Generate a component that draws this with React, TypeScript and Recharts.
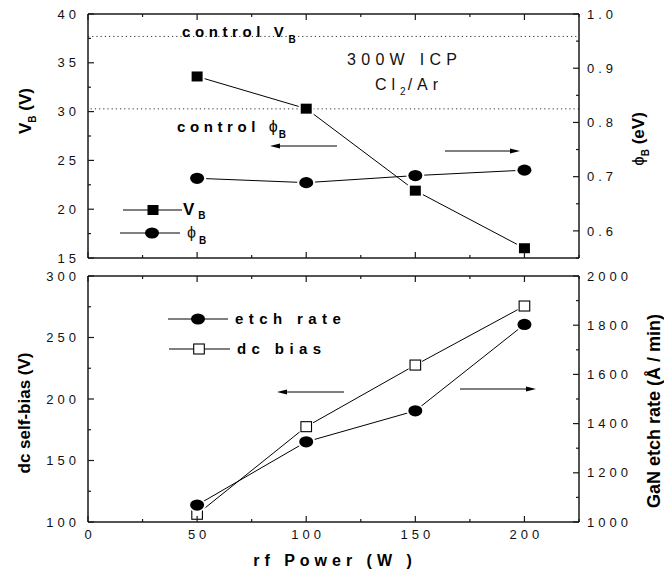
import React from "react";
import { ComposedChart, Line, XAxis, YAxis, ReferenceLine } from "recharts";

const FONT = "'Liberation Sans', Arial, Helvetica, sans-serif";

// ---- data ----
const power = [50, 100, 150, 200];
const vB = [33.6, 30.3, 21.9, 16.0];
const phiB = [0.697, 0.689, 0.702, 0.712];
const etchRate = [1069, 1326, 1452, 1803];
const dcBias = [106.3, 177.5, 227.6, 275.6];
const controlVB = 37.7;
const controlPhiB = 0.825;

// ---- ticks ----
const xTicks = [0, 25, 50, 75, 100, 125, 150, 175, 200, 225];
const vbTicks = [15, 17.5, 20, 22.5, 25, 27.5, 30, 32.5, 35, 37.5, 40];
const phiTicks = [0.55, 0.6, 0.65, 0.7, 0.75, 0.8, 0.85, 0.9, 0.95, 1.0];
const biasTicks = [100, 125, 150, 175, 200, 225, 250, 275, 300];
const rateTicks = [1000, 1100, 1200, 1300, 1400, 1500, 1600, 1700, 1800, 1900, 2000];

const topData = power.map((p, i) => ({ power: p, vB: vB[i], phiB: phiB[i] }));
const botData = power.map((p, i) => ({ power: p, etchRate: etchRate[i], dcBias: dcBias[i] }));

const isMult = (step: number) => (v: number) => Math.abs(v / step - Math.round(v / step)) < 1e-6;

const AX = "#1a1a1a";
const PHI = "\u03D5";

function makeTick(orient: string, isMajor: (v: number) => boolean, fmt: ((v: number) => string) | null) {
  return (props: any) => {
    const { x, y, payload } = props;
    const v = Number(payload.value);
    const major = isMajor(v);
    const len = major ? 6 : 3;
    const ts = { fontFamily: FONT, fontSize: 13, letterSpacing: 4, fill: "#111" } as any;
    let line: any = null;
    let label: any = null;
    if (orient === "left") {
      line = <line x1={x} y1={y} x2={x + len} y2={y} stroke={AX} strokeWidth={1.2} />;
      if (fmt && major) label = <text x={x - 8} y={y} dy="0.36em" textAnchor="end" {...ts}>{fmt(v)}</text>;
    } else if (orient === "right") {
      line = <line x1={x} y1={y} x2={x - len} y2={y} stroke={AX} strokeWidth={1.2} />;
      if (fmt && major) label = <text x={x + 8} y={y} dy="0.36em" textAnchor="start" {...ts}>{fmt(v)}</text>;
    } else if (orient === "bottom") {
      line = <line x1={x} y1={y} x2={x} y2={y - len} stroke={AX} strokeWidth={1.2} />;
      if (fmt && major) label = <text x={x + 2} y={y + 16.5} textAnchor="middle" {...ts}>{fmt(v)}</text>;
    } else {
      line = <line x1={x} y1={y} x2={x} y2={y + len} stroke={AX} strokeWidth={1.2} />;
    }
    return (
      <g>
        {line}
        {label}
      </g>
    );
  };
}

const FilledSquare = (props: any) => {
  const { cx, cy } = props;
  if (cx == null || cy == null) return <g />;
  return (
    <g>
      <rect x={cx - 7.5} y={cy - 7} width={15} height={14} fill="#fff" />
      <rect x={cx - 5.5} y={cy - 5} width={11} height={10} fill="#000" />
    </g>
  );
};
const FilledEllipse = (props: any) => {
  const { cx, cy } = props;
  if (cx == null || cy == null) return <g />;
  return (
    <g>
      <ellipse cx={cx} cy={cy} rx={9} ry={7} fill="#fff" />
      <ellipse cx={cx} cy={cy} rx={7} ry={5.6} fill="#000" />
    </g>
  );
};
const OpenSquare = (props: any) => {
  const { cx, cy } = props;
  if (cx == null || cy == null) return <g />;
  return (
    <g>
      <rect x={cx - 6.8} y={cy - 6} width={13.6} height={12} fill="#fff" />
      <rect x={cx - 5.3} y={cy - 5} width={10.6} height={10} fill="#fff" stroke="#000" strokeWidth={1.1} />
    </g>
  );
};

const Arrow = ({ x1, x2, y }: { x1: number; x2: number; y: number }) => {
  const dir = x2 > x1 ? 1 : -1;
  const hl = 10;
  return (
    <g>
      <line x1={x1} y1={y} x2={x2 - dir * hl} y2={y} stroke="#000" strokeWidth={1} />
      <polygon points={`${x2},${y} ${x2 - dir * hl},${y - 2.6} ${x2 - dir * hl},${y + 2.6}`} fill="#000" />
    </g>
  );
};

const bold = { fontFamily: FONT, fontWeight: 700, fill: "#000" } as any;
const reg = { fontFamily: FONT, fill: "#111" } as any;

export default function App() {
  return (
    <div style={{ position: "absolute", left: 0, top: 0, width: 664, height: 571, background: "#fff" }}>
      <div style={{ position: "absolute", left: 0, top: 0 }}>
        <ComposedChart width={664} height={270} data={topData} margin={{ top: 0, right: 25, bottom: 0, left: 28 }}>
          <XAxis xAxisId="b" dataKey="power" type="number" domain={[0, 225]} ticks={xTicks} interval={0}
            height={12} tickSize={0} tickMargin={0} tickLine={false} axisLine={{ stroke: AX, strokeWidth: 1.5 }}
            tick={makeTick("bottom", isMult(50), null)} />
          <XAxis xAxisId="t" orientation="top" dataKey="power" type="number" domain={[0, 225]} ticks={xTicks} interval={0}
            height={14} tickSize={0} tickMargin={0} tickLine={false} axisLine={{ stroke: AX, strokeWidth: 1.5 }}
            tick={makeTick("top", isMult(50), null)} />
          <YAxis yAxisId="L" type="number" domain={[15, 40]} ticks={vbTicks} interval={0} width={60}
            tickSize={0} tickMargin={0} tickLine={false} axisLine={{ stroke: AX, strokeWidth: 1.5 }}
            tick={makeTick("left", isMult(5), (v) => String(v))} />
          <YAxis yAxisId="R" orientation="right" type="number" domain={[0.55, 1.0]} ticks={phiTicks} interval={0} width={60}
            tickSize={0} tickMargin={0} tickLine={false} axisLine={{ stroke: AX, strokeWidth: 1.5 }}
            tick={makeTick("right", isMult(0.1), (v) => v.toFixed(1))} />
          <ReferenceLine xAxisId="b" yAxisId="L" y={controlVB} stroke="#333" strokeWidth={1} strokeDasharray="1.2 3" />
          <ReferenceLine xAxisId="b" yAxisId="R" y={controlPhiB} stroke="#333" strokeWidth={1} strokeDasharray="1.2 3" />
          <Line xAxisId="b" yAxisId="L" dataKey="vB" stroke="#000" strokeWidth={1} isAnimationActive={false}
            dot={(p: any) => <FilledSquare key={"vb" + p.index} {...p} />} activeDot={false} />
          <Line xAxisId="b" yAxisId="R" dataKey="phiB" stroke="#000" strokeWidth={1} isAnimationActive={false}
            dot={(p: any) => <FilledEllipse key={"ph" + p.index} {...p} />} activeDot={false} />
        </ComposedChart>
      </div>
      <div style={{ position: "absolute", left: 0, top: 270 }}>
        <ComposedChart width={664} height={301} data={botData} margin={{ top: 0, right: 25, bottom: 0, left: 28 }}>
          <XAxis xAxisId="b" dataKey="power" type="number" domain={[0, 225]} ticks={xTicks} interval={0}
            height={49} tickSize={0} tickMargin={0} tickLine={false} axisLine={{ stroke: AX, strokeWidth: 1.5 }}
            tick={makeTick("bottom", isMult(50), (v) => String(v))} />
          <XAxis xAxisId="t" orientation="top" dataKey="power" type="number" domain={[0, 225]} ticks={xTicks} interval={0}
            height={6} tickSize={0} tickMargin={0} tickLine={false} axisLine={{ stroke: AX, strokeWidth: 1.5 }}
            tick={makeTick("top", isMult(50), null)} />
          <YAxis yAxisId="L" type="number" domain={[100, 300]} ticks={biasTicks} interval={0} width={60}
            tickSize={0} tickMargin={0} tickLine={false} axisLine={{ stroke: AX, strokeWidth: 1.5 }}
            tick={makeTick("left", isMult(50), (v) => String(v))} />
          <YAxis yAxisId="R" orientation="right" type="number" domain={[1000, 2000]} ticks={rateTicks} interval={0} width={60}
            tickSize={0} tickMargin={0} tickLine={false} axisLine={{ stroke: AX, strokeWidth: 1.5 }}
            tick={makeTick("right", isMult(200), (v) => String(v))} />
          <Line xAxisId="b" yAxisId="L" dataKey="dcBias" stroke="#000" strokeWidth={1} isAnimationActive={false}
            dot={(p: any) => <OpenSquare key={"dc" + p.index} {...p} />} activeDot={false} />
          <Line xAxisId="b" yAxisId="R" dataKey="etchRate" stroke="#000" strokeWidth={1} isAnimationActive={false}
            dot={(p: any) => <FilledEllipse key={"er" + p.index} {...p} />} activeDot={false} />
        </ComposedChart>
      </div>

      <svg width={664} height={571} style={{ position: "absolute", left: 0, top: 0, pointerEvents: "none" }}>
        {/* axis titles */}
        <text transform="translate(31,111) rotate(-90)" textAnchor="middle" {...bold} fontSize={17}>
          V<tspan fontSize={10} dy={5}>B</tspan><tspan dy={-5}> (V)</tspan>
        </text>
        <text transform="translate(644,139) rotate(-90)" textAnchor="middle" {...bold} fontSize={17}>
          <tspan fontWeight={400}>{PHI}</tspan><tspan fontSize={10} dy={5}>B</tspan><tspan dy={-5}> (eV)</tspan>
        </text>
        <text transform="translate(30,413) rotate(-90)" textAnchor="middle" {...bold} fontSize={17}>
          dc self-bias (V)
        </text>
        <text transform="translate(660,411) rotate(-90)" textAnchor="middle" {...bold} fontSize={18}>
          GaN etch rate (Å / min)
        </text>
        <text x={335} y={566} textAnchor="middle" {...bold} fontSize={16} letterSpacing={5}>
          rf Power (W )
        </text>

        {/* top panel annotations */}
        <text x={182} y={37} {...bold} fontSize={15} letterSpacing={4.6}>
          control <tspan>V</tspan><tspan fontSize={10} dy={6} letterSpacing={0}>B</tspan>
        </text>
        <text x={177} y={132} {...bold} fontSize={15} letterSpacing={4.6}>
          control <tspan fontWeight={400} fontSize={16} letterSpacing={1}>{PHI}</tspan>
          <tspan fontSize={10} dy={6} letterSpacing={0}>B</tspan>
        </text>
        <text x={347} y={65} {...reg} fontSize={16} letterSpacing={5.3}>
          300W  ICP
        </text>
        <text x={375} y={90} {...reg} fontSize={16} letterSpacing={5}>
          Cl<tspan fontSize={10} dy={5} letterSpacing={2}>2</tspan><tspan dy={-5}>/Ar</tspan>
        </text>
        <Arrow x1={337} x2={270} y={146} />
        <Arrow x1={445} x2={520} y={151} />

        {/* top legend */}
        <line x1={123} y1={210} x2={182} y2={210} stroke="#000" strokeWidth={1} />
        <rect x={147.5} y={205} width={11} height={10} fill="#000" />
        <text x={183} y={215} {...bold} fontSize={17}>
          V<tspan fontSize={10} dy={4} dx={4}>B</tspan>
        </text>
        <line x1={120} y1={233} x2={180} y2={233} stroke="#000" strokeWidth={1} />
        <ellipse cx={152} cy={233} rx={7} ry={5.6} fill="#000" />
        <text x={187} y={238} {...reg} fontSize={16}>
          {PHI}<tspan {...bold} fontSize={10} dy={6} dx={3}>B</tspan>
        </text>

        {/* bottom panel annotations */}
        <Arrow x1={344} x2={277} y={392} />
        <Arrow x1={460} x2={536} y={389} />
        <line x1={168} y1={319} x2={228} y2={319} stroke="#000" strokeWidth={1} />
        <ellipse cx={198} cy={319} rx={7} ry={5.6} fill="#000" />
        <text x={235} y={324} {...bold} fontSize={15} letterSpacing={5.4}>etch rate</text>
        <line x1={169} y1={349} x2={230} y2={349} stroke="#000" strokeWidth={1} />
        <rect x={193.7} y={344} width={10.6} height={10} fill="#fff" stroke="#000" strokeWidth={1.1} />
        <text x={237} y={354} {...bold} fontSize={15} letterSpacing={5.4}>dc bias</text>
      </svg>
    </div>
  );
}
